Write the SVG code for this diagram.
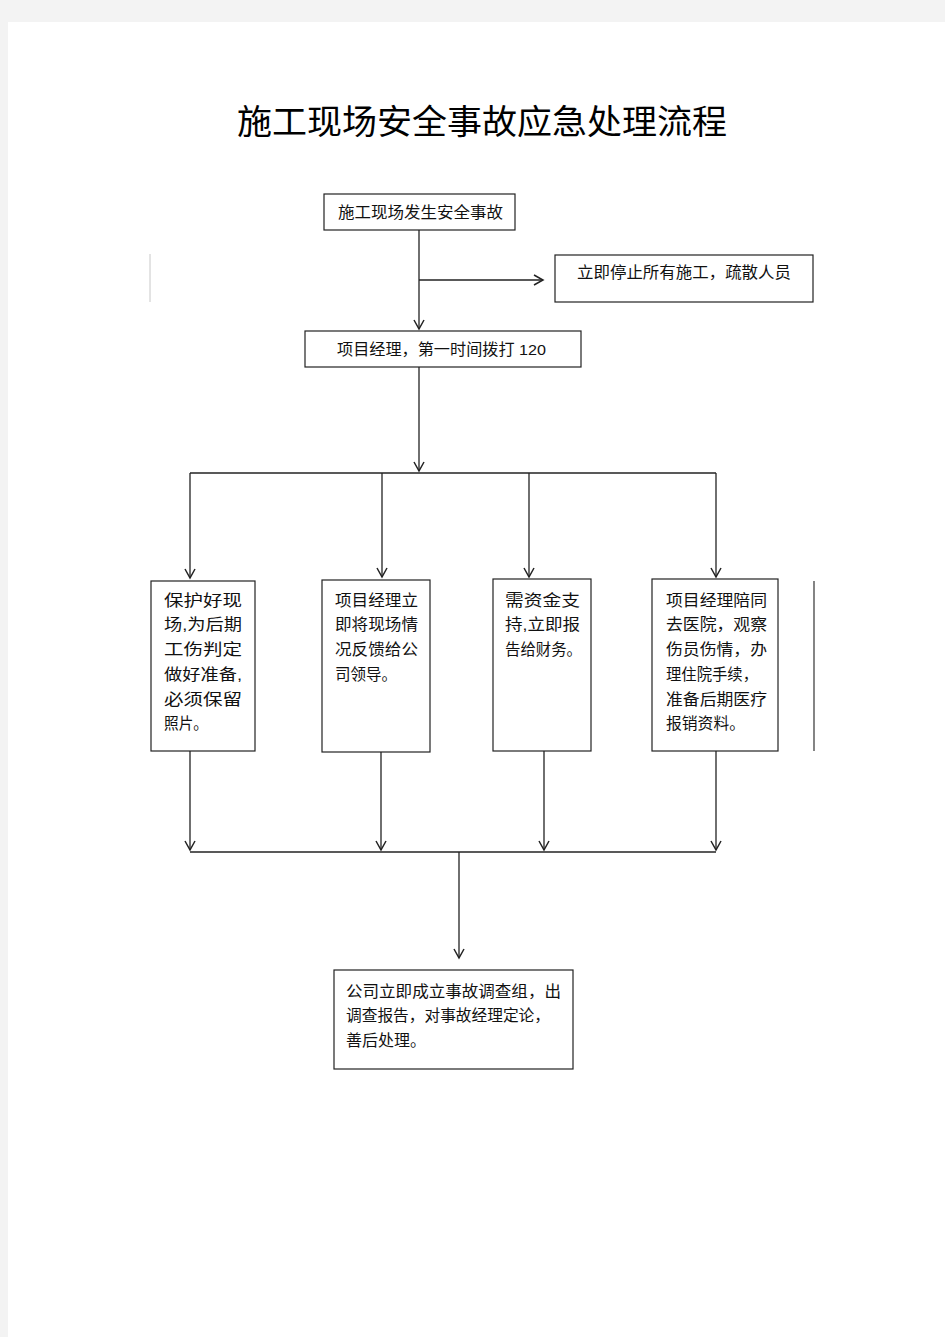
<svg xmlns="http://www.w3.org/2000/svg" width="945" height="1337" viewBox="0 0 945 1337">
<defs>
<style>
.box{fill:#fff;stroke:#222;stroke-width:1.2}
.t{font-family:"Liberation Sans","Noto Sans CJK SC",sans-serif;font-size:15.5px;fill:#111}
.title{font-family:"Liberation Serif","Noto Sans CJK SC",serif;font-size:34px;fill:#000}
.c{fill:none;stroke:#222;stroke-width:1.3}
</style>
<marker id="ah" markerWidth="12" markerHeight="12" refX="10" refY="6" orient="auto" markerUnits="userSpaceOnUse">
<path d="M1,1 L10,6 L1,11" fill="none" stroke="#222" stroke-width="1.5"/>
</marker>
</defs>
<rect x="0" y="0" width="945" height="1337" fill="#f3f3f3"/>
<rect x="8" y="22" width="937" height="1315" fill="#fff"/>
<line x1="150" y1="254" x2="150" y2="302" stroke="#c8c8c8" stroke-width="1"/>
<line x1="814" y1="581" x2="814" y2="751" stroke="#333" stroke-width="1.2"/>
<text class="title" x="482" y="134" text-anchor="middle" textLength="490" lengthAdjust="spacingAndGlyphs">施工现场安全事故应急处理流程</text>

<g id="connectors">
<path class="c" d="M419,230 V329" marker-end="url(#ah)"/>
<path class="c" d="M419,280 H543" marker-end="url(#ah)"/>
<path class="c" d="M419,367 V471" marker-end="url(#ah)"/>
<path class="c" d="M190,473 H716"/>
<path class="c" d="M190,473 V578" marker-end="url(#ah)"/>
<path class="c" d="M382,473 V577" marker-end="url(#ah)"/>
<path class="c" d="M529,473 V577" marker-end="url(#ah)"/>
<path class="c" d="M716,473 V577" marker-end="url(#ah)"/>
<path class="c" d="M190,751 V850" marker-end="url(#ah)"/>
<path class="c" d="M381,752 V850" marker-end="url(#ah)"/>
<path class="c" d="M544,751 V850" marker-end="url(#ah)"/>
<path class="c" d="M716,751 V850" marker-end="url(#ah)"/>
<path class="c" d="M190,852 H716"/>
<path class="c" d="M459,852 V958" marker-end="url(#ah)"/>
</g>

<g id="n1">
<rect class="box" x="324" y="194" width="191" height="36"/>
<text class="t" x="338" y="218" textLength="165" lengthAdjust="spacingAndGlyphs">施工现场发生安全事故</text>
</g>
<g id="n2">
<rect class="box" x="555" y="255" width="258" height="47"/>
<text class="t" x="577" y="278" textLength="214" lengthAdjust="spacingAndGlyphs">立即停止所有施工，疏散人员</text>
</g>
<g id="n3">
<rect class="box" x="305" y="331" width="276" height="36"/>
<text class="t" x="337" y="355" textLength="209" lengthAdjust="spacingAndGlyphs">项目经理，第一时间拨打 120</text>
</g>
<g id="n4">
<rect class="box" x="151" y="581" width="104" height="170"/>
<text class="t" x="164" y="606" textLength="78" lengthAdjust="spacingAndGlyphs">保护好现</text>
<text class="t" x="164" y="630" textLength="78" lengthAdjust="spacingAndGlyphs">场,为后期</text>
<text class="t" x="164" y="655" textLength="78" lengthAdjust="spacingAndGlyphs">工伤判定</text>
<text class="t" x="164" y="680" textLength="78" lengthAdjust="spacingAndGlyphs">做好准备,</text>
<text class="t" x="164" y="705" textLength="78" lengthAdjust="spacingAndGlyphs">必须保留</text>
<text class="t" x="164" y="729" textLength="44" lengthAdjust="spacingAndGlyphs">照片。</text>
</g>
<g id="n5">
<rect class="box" x="322" y="580" width="108" height="172"/>
<text class="t" x="335" y="606" textLength="83" lengthAdjust="spacingAndGlyphs">项目经理立</text>
<text class="t" x="335" y="630" textLength="83" lengthAdjust="spacingAndGlyphs">即将现场情</text>
<text class="t" x="335" y="655" textLength="83" lengthAdjust="spacingAndGlyphs">况反馈给公</text>
<text class="t" x="335" y="680" textLength="62" lengthAdjust="spacingAndGlyphs">司领导。</text>
</g>
<g id="n6">
<rect class="box" x="493" y="579" width="98" height="172"/>
<text class="t" x="505" y="606" textLength="75" lengthAdjust="spacingAndGlyphs">需资金支</text>
<text class="t" x="505" y="630" textLength="75" lengthAdjust="spacingAndGlyphs">持,立即报</text>
<text class="t" x="505" y="655" textLength="77" lengthAdjust="spacingAndGlyphs">告给财务。</text>
</g>
<g id="n7">
<rect class="box" x="652" y="579" width="126" height="172"/>
<text class="t" x="666" y="606" textLength="101" lengthAdjust="spacingAndGlyphs">项目经理陪同</text>
<text class="t" x="666" y="630" textLength="101" lengthAdjust="spacingAndGlyphs">去医院，观察</text>
<text class="t" x="666" y="655" textLength="101" lengthAdjust="spacingAndGlyphs">伤员伤情，办</text>
<text class="t" x="666" y="680" textLength="92" lengthAdjust="spacingAndGlyphs">理住院手续，</text>
<text class="t" x="666" y="705" textLength="101" lengthAdjust="spacingAndGlyphs">准备后期医疗</text>
<text class="t" x="666" y="729" textLength="79" lengthAdjust="spacingAndGlyphs">报销资料。</text>
</g>
<g id="n8">
<rect class="box" x="334" y="970" width="239" height="99"/>
<text class="t" x="346" y="997" textLength="215" lengthAdjust="spacingAndGlyphs">公司立即成立事故调查组，出</text>
<text class="t" x="346" y="1021" textLength="204" lengthAdjust="spacingAndGlyphs">调查报告，对事故经理定论，</text>
<text class="t" x="346" y="1046" textLength="80" lengthAdjust="spacingAndGlyphs">善后处理。</text>
</g>
</svg>
